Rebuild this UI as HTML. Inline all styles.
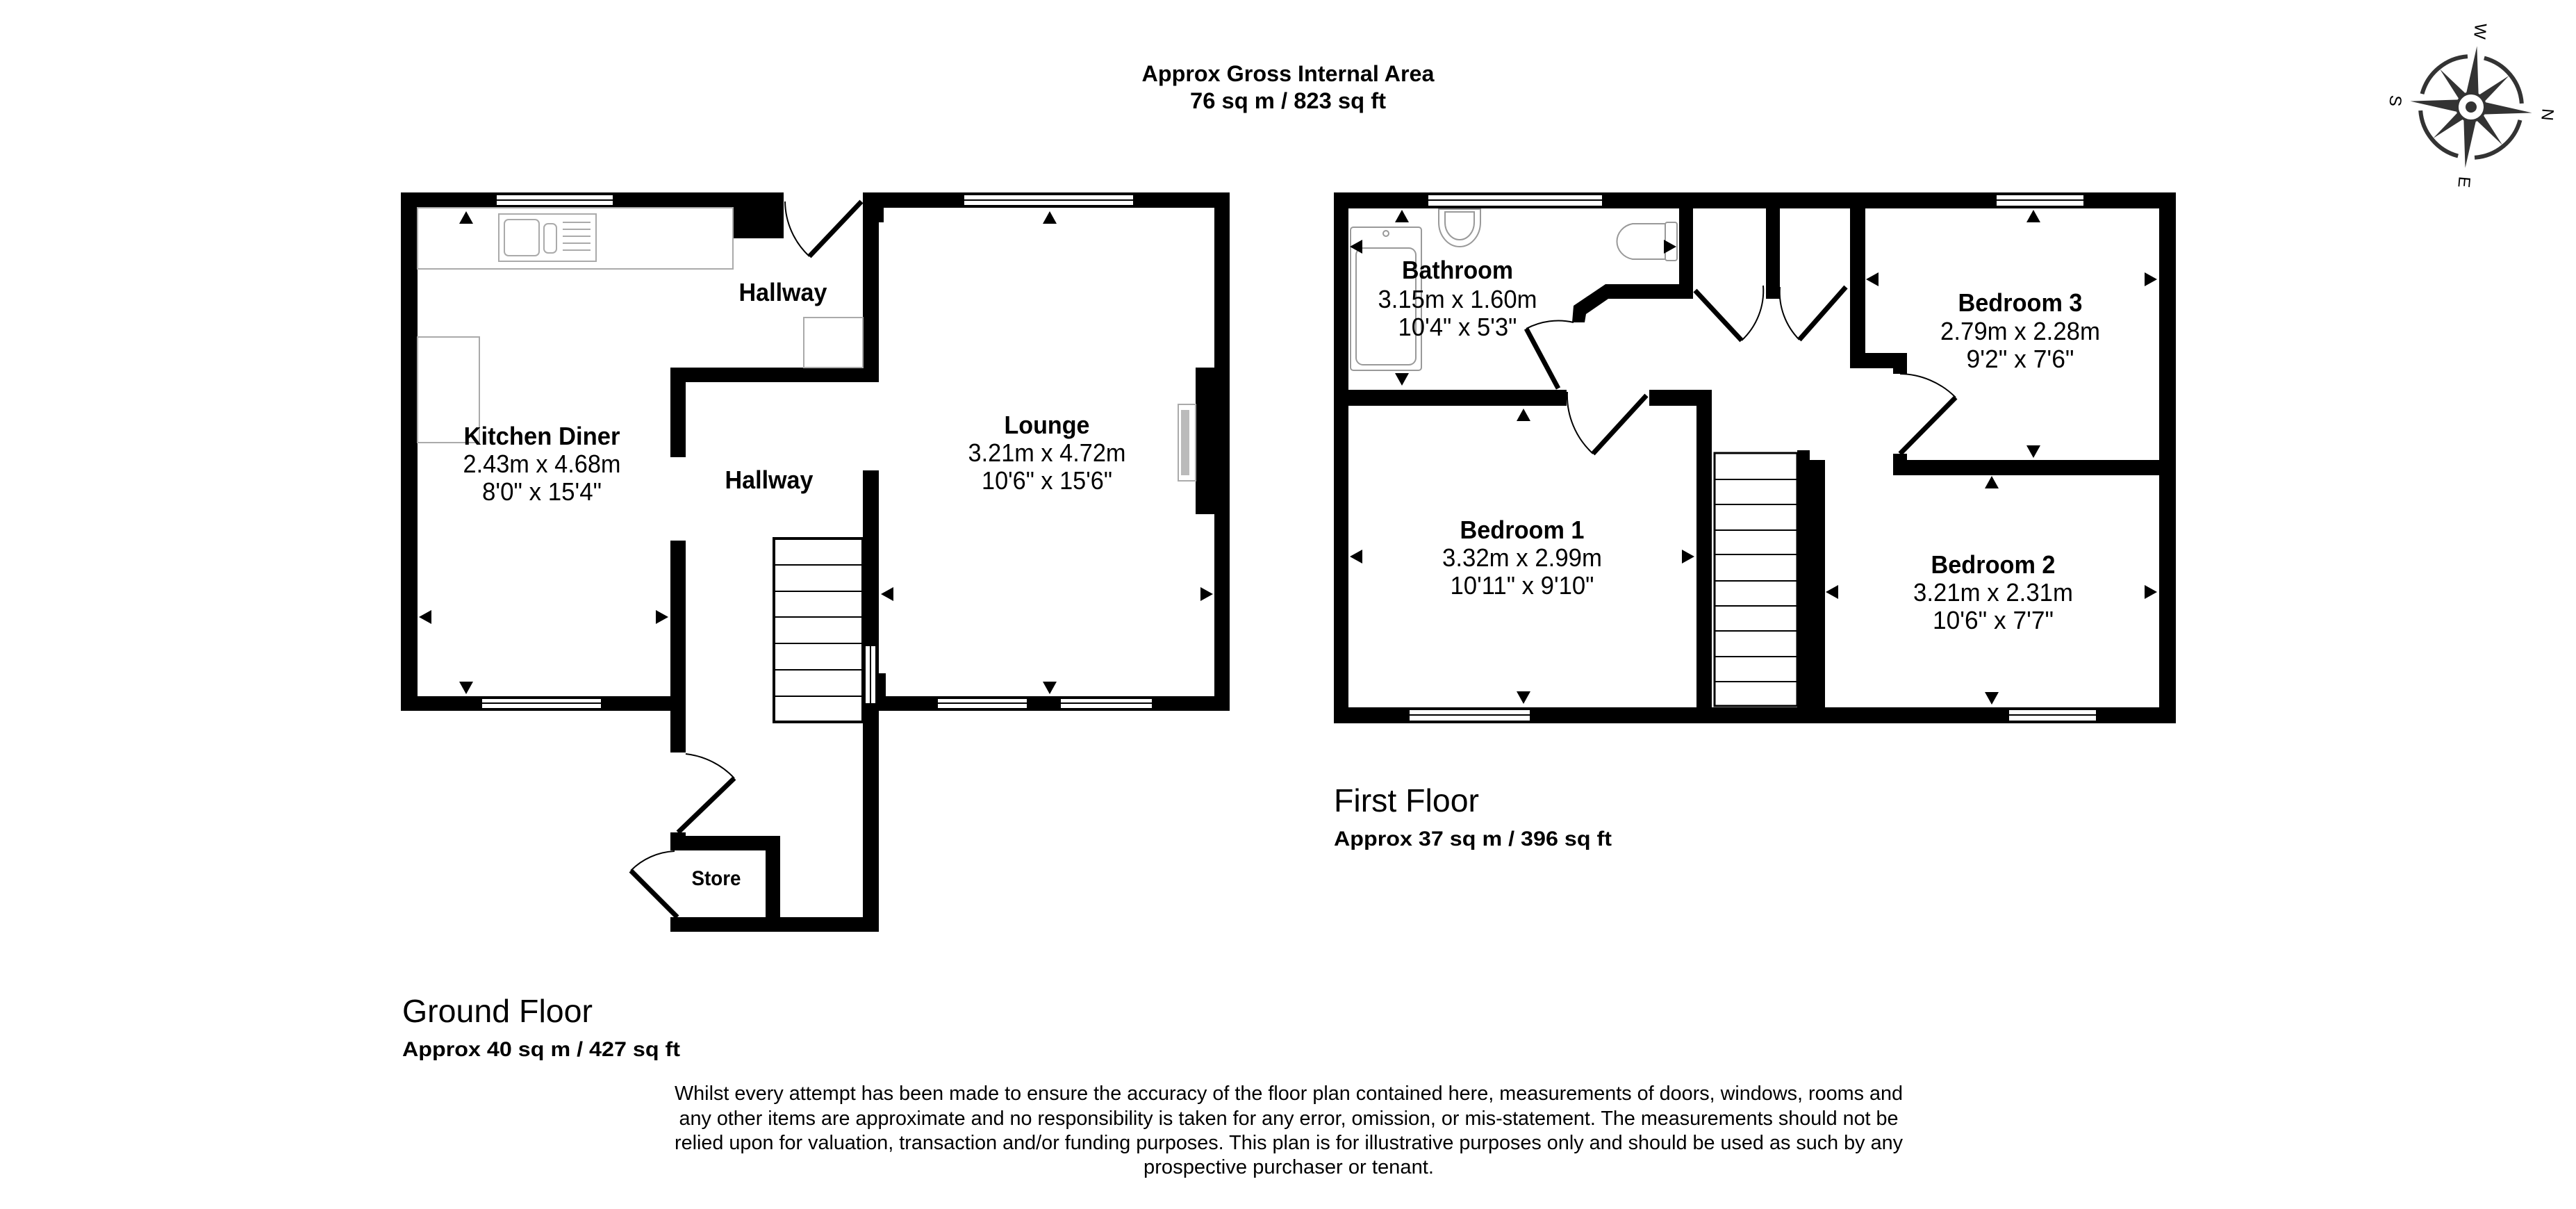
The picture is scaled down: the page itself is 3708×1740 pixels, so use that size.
<!DOCTYPE html>
<html><head><meta charset="utf-8"><style>
html,body{margin:0;padding:0;background:#fff;}
svg{display:block;}
text{font-family:"Liberation Sans",Arial,sans-serif;fill:#000;}
.b{font-weight:bold;}
</style></head><body>
<svg width="3708" height="1740" viewBox="0 0 3708 1740" xmlns="http://www.w3.org/2000/svg">
<rect width="3708" height="1740" fill="#fff"/>

<text x="1854" y="117" class="b" font-size="32" text-anchor="middle" textLength="421" lengthAdjust="spacingAndGlyphs">Approx Gross Internal Area</text>
<text x="1854" y="156" class="b" font-size="32" text-anchor="middle" textLength="282" lengthAdjust="spacingAndGlyphs">76 sq m / 823 sq ft</text>

<!-- GROUND FLOOR -->
<g fill="#000">
<rect x="577" y="277" width="551" height="22"/>
<rect x="1055" y="299" width="73" height="44"/>
<rect x="577" y="277" width="24" height="746"/>
<rect x="577" y="1002" width="410" height="21"/>
<rect x="965" y="778" width="22" height="305"/>
<rect x="965" y="529" width="22" height="129"/>
<rect x="965" y="529" width="300" height="21"/>
<rect x="1242" y="277" width="528" height="22"/>
<rect x="1242" y="277" width="30" height="43"/>
<rect x="1242" y="277" width="23" height="273"/>
<rect x="1748" y="277" width="22" height="746"/>
<rect x="1242" y="1002" width="528" height="21"/>
<rect x="1242" y="677" width="23" height="664"/>
<rect x="1265" y="969" width="10" height="33"/>
<rect x="965" y="1320" width="300" height="21"/>
<rect x="965" y="1203" width="158" height="21"/>
<rect x="1102" y="1203" width="21" height="138"/>
<rect x="965" y="1198" width="22" height="26"/>
<rect x="1721" y="529" width="27" height="211"/>
</g>
<g fill="#fff" stroke="#000" stroke-width="2">
<rect x="714" y="280" width="169" height="16"/><line x1="714" y1="288" x2="883" y2="288"/>
<rect x="1387" y="280" width="245" height="16"/><line x1="1387" y1="288" x2="1632" y2="288"/>
<rect x="693" y="1005" width="173" height="15"/><line x1="693" y1="1012" x2="866" y2="1012"/>
<rect x="1349" y="1005" width="130" height="15"/><line x1="1349" y1="1012" x2="1479" y2="1012"/>
<rect x="1526" y="1005" width="133" height="15"/><line x1="1526" y1="1012" x2="1659" y2="1012"/>
<rect x="1245" y="929" width="16" height="84"/><line x1="1253" y1="929" x2="1253" y2="1013"/>
</g>
<g fill="none" stroke="#aaa" stroke-width="2">
<rect x="601" y="299" width="454" height="88"/>
<rect x="718" y="308" width="140" height="68"/>
<rect x="726" y="316" width="50" height="52" rx="6"/>
<rect x="783" y="322" width="18" height="42" rx="6"/>
<line x1="810" y1="320" x2="850" y2="320"/><line x1="810" y1="330" x2="850" y2="330"/><line x1="810" y1="340" x2="850" y2="340"/><line x1="810" y1="350" x2="850" y2="350"/><line x1="810" y1="360" x2="850" y2="360"/>
<rect x="601" y="485" width="89" height="152"/>
<rect x="1157" y="457" width="85" height="72"/>
<rect x="1696" y="582" width="25" height="110"/>
</g>
<rect x="1700" y="590" width="12" height="94" fill="#bbb"/>
<g fill="none" stroke="#000">
<rect x="1114" y="775" width="128" height="264" stroke-width="4"/>
<g stroke-width="2">
<line x1="1114" y1="813" x2="1242" y2="813"/><line x1="1114" y1="851" x2="1242" y2="851"/><line x1="1114" y1="888" x2="1242" y2="888"/><line x1="1114" y1="926" x2="1242" y2="926"/><line x1="1114" y1="964" x2="1242" y2="964"/><line x1="1114" y1="1002" x2="1242" y2="1002"/>
</g>
</g>
<g fill="none" stroke="#000">
<line x1="1240" y1="290" x2="1165" y2="369" stroke-width="7"/>
<path d="M1130 290 A110 110 0 0 0 1165 369" stroke-width="2"/>
<line x1="976" y1="1198" x2="1057" y2="1120" stroke-width="7"/>
<path d="M987 1085 A113 113 0 0 1 1057 1120" stroke-width="2"/>
<line x1="975" y1="1320" x2="908" y2="1253" stroke-width="7"/>
<path d="M971 1225 A95 95 0 0 0 908 1253" stroke-width="2"/>
</g>
<g fill="#000">
<polygon points="671,304 661,322 681,322"/>
<polygon points="671,999 661,981 681,981"/>
<polygon points="603,888 621,878 621,898"/>
<polygon points="962,888 944,878 944,898"/>
<polygon points="1511,304 1501,322 1521,322"/>
<polygon points="1511,999 1501,981 1521,981"/>
<polygon points="1268,855 1286,845 1286,865"/>
<polygon points="1746,855 1728,845 1728,865"/>
</g>
<g font-size="36" text-anchor="middle">
<text x="780" y="640" class="b" textLength="225" lengthAdjust="spacingAndGlyphs">Kitchen Diner</text>
<text x="780" y="680" textLength="227" lengthAdjust="spacingAndGlyphs">2.43m x 4.68m</text>
<text x="780" y="720" textLength="172" lengthAdjust="spacingAndGlyphs">8'0" x 15'4"</text>
<text x="1127" y="433" class="b" textLength="127" lengthAdjust="spacingAndGlyphs">Hallway</text>
<text x="1107" y="703" class="b" textLength="127" lengthAdjust="spacingAndGlyphs">Hallway</text>
<text x="1507" y="624" class="b" textLength="123" lengthAdjust="spacingAndGlyphs">Lounge</text>
<text x="1507" y="664" textLength="227" lengthAdjust="spacingAndGlyphs">3.21m x 4.72m</text>
<text x="1507" y="704" textLength="188" lengthAdjust="spacingAndGlyphs">10'6" x 15'6"</text>
</g>
<text x="1031" y="1274" class="b" font-size="30" text-anchor="middle" textLength="71" lengthAdjust="spacingAndGlyphs">Store</text>

<text x="579" y="1471" font-size="46" textLength="274" lengthAdjust="spacingAndGlyphs">Ground Floor</text>
<text x="579" y="1520" class="b" font-size="30" textLength="400" lengthAdjust="spacingAndGlyphs">Approx 40 sq m / 427 sq ft</text>

<!-- FIRST FLOOR -->
<g fill="#000">
<rect x="1920" y="277" width="1212" height="23"/>
<rect x="1920" y="277" width="21" height="764"/>
<rect x="3108" y="277" width="24" height="764"/>
<rect x="1920" y="1018" width="1212" height="23"/>
<rect x="2417" y="300" width="20" height="130"/>
<polygon points="2311,409 2437,409 2437,430 2315,430 2283,452 2281,464 2263,464 2265,440"/>
<rect x="1941" y="561" width="314" height="23"/>
<rect x="2374" y="561" width="90" height="23"/>
<rect x="2442" y="561" width="22" height="480"/>
<rect x="2542" y="300" width="20" height="130"/>
<rect x="2663" y="300" width="22" height="230"/>
<rect x="2663" y="508" width="82" height="22"/>
<rect x="2725" y="508" width="20" height="30"/>
<rect x="2725" y="662" width="407" height="22"/>
<rect x="2725" y="653" width="20" height="31"/>
<rect x="2587" y="662" width="40" height="379"/>
<rect x="2587" y="648" width="18" height="20"/>
</g>
<g fill="#fff" stroke="#000" stroke-width="2">
<rect x="2055" y="280" width="252" height="17"/><line x1="2055" y1="288" x2="2307" y2="288"/>
<rect x="2873" y="280" width="127" height="17"/><line x1="2873" y1="288" x2="3000" y2="288"/>
<rect x="2028" y="1021" width="175" height="17"/><line x1="2028" y1="1029" x2="2203" y2="1029"/>
<rect x="2891" y="1021" width="127" height="17"/><line x1="2891" y1="1029" x2="3018" y2="1029"/>
</g>
<g fill="none" stroke="#999" stroke-width="2">
<rect x="1944" y="327" width="102" height="206" rx="4"/>
<rect x="1952" y="357" width="86" height="168" rx="10"/>
<circle cx="1995" cy="336" r="4"/>
<path d="M2071 301 L2131 301 L2131 320 A30 35 0 0 1 2071 320 Z"/>
<path d="M2080 305 L2122 305 L2122 320 A21 25 0 0 1 2080 320 Z"/>
<rect x="2397" y="320" width="17" height="55" rx="3"/>
<path d="M2397 322 L2350 322 A28 26 0 0 0 2350 373 L2397 373"/>
</g>
<g fill="none" stroke="#000">
<rect x="2468" y="652" width="119" height="364" stroke-width="3"/>
<g stroke-width="2">
<line x1="2468" y1="690" x2="2587" y2="690"/><line x1="2468" y1="726" x2="2587" y2="726"/><line x1="2468" y1="763" x2="2587" y2="763"/><line x1="2468" y1="798" x2="2587" y2="798"/><line x1="2468" y1="836" x2="2587" y2="836"/><line x1="2468" y1="872" x2="2587" y2="872"/><line x1="2468" y1="908" x2="2587" y2="908"/><line x1="2468" y1="945" x2="2587" y2="945"/><line x1="2468" y1="981" x2="2587" y2="981"/>
</g>
</g>
<g fill="none" stroke="#000">
<line x1="2243" y1="559" x2="2197" y2="473" stroke-width="7"/>
<path d="M2197 473 A98 98 0 0 1 2265 464" stroke-width="2"/>
<line x1="2370" y1="569" x2="2293" y2="653" stroke-width="7"/>
<path d="M2256 564 A114 114 0 0 0 2293 653" stroke-width="2"/>
<line x1="2440" y1="418" x2="2507" y2="490" stroke-width="7"/>
<path d="M2507 490 A98 98 0 0 0 2538 411" stroke-width="2"/>
<line x1="2657" y1="413" x2="2590" y2="489" stroke-width="7"/>
<path d="M2562 413 A98 98 0 0 0 2590 489" stroke-width="2"/>
<line x1="2735" y1="653" x2="2815" y2="572" stroke-width="7"/>
<path d="M2735 538 A115 115 0 0 1 2815 572" stroke-width="2"/>
</g>
<g fill="#000">
<polygon points="2018,302 2008,320 2028,320"/>
<polygon points="2018,555 2008,537 2028,537"/>
<polygon points="1943,355 1961,345 1961,365"/>
<polygon points="2413,355 2395,345 2395,365"/>
<polygon points="2193,588 2183,606 2203,606"/>
<polygon points="2193,1013 2183,995 2203,995"/>
<polygon points="1943,801 1961,791 1961,811"/>
<polygon points="2439,801 2421,791 2421,811"/>
<polygon points="2927,302 2917,320 2937,320"/>
<polygon points="2927,659 2917,641 2937,641"/>
<polygon points="2686,402 2704,392 2704,412"/>
<polygon points="3105,402 3087,392 3087,412"/>
<polygon points="2867,685 2857,703 2877,703"/>
<polygon points="2867,1014 2857,996 2877,996"/>
<polygon points="2628,852 2646,842 2646,862"/>
<polygon points="3105,852 3087,842 3087,862"/>
</g>
<g font-size="36" text-anchor="middle">
<text x="2098" y="401" class="b" textLength="160" lengthAdjust="spacingAndGlyphs">Bathroom</text>
<text x="2098" y="443" textLength="229" lengthAdjust="spacingAndGlyphs">3.15m x 1.60m</text>
<text x="2098" y="483" textLength="171" lengthAdjust="spacingAndGlyphs">10'4" x 5'3"</text>
<text x="2908" y="448" class="b" textLength="179" lengthAdjust="spacingAndGlyphs">Bedroom 3</text>
<text x="2908" y="489" textLength="230" lengthAdjust="spacingAndGlyphs">2.79m x 2.28m</text>
<text x="2908" y="529" textLength="155" lengthAdjust="spacingAndGlyphs">9'2" x 7'6"</text>
<text x="2191" y="775" class="b" textLength="179" lengthAdjust="spacingAndGlyphs">Bedroom 1</text>
<text x="2191" y="815" textLength="230" lengthAdjust="spacingAndGlyphs">3.32m x 2.99m</text>
<text x="2191" y="855" textLength="207" lengthAdjust="spacingAndGlyphs">10'11" x 9'10"</text>
<text x="2869" y="825" class="b" textLength="179" lengthAdjust="spacingAndGlyphs">Bedroom 2</text>
<text x="2869" y="865" textLength="230" lengthAdjust="spacingAndGlyphs">3.21m x 2.31m</text>
<text x="2869" y="905" textLength="174" lengthAdjust="spacingAndGlyphs">10'6" x 7'7"</text>
</g>

<text x="1920" y="1168" font-size="46" textLength="209" lengthAdjust="spacingAndGlyphs">First Floor</text>
<text x="1920" y="1217" class="b" font-size="30" textLength="400" lengthAdjust="spacingAndGlyphs">Approx 37 sq m / 396 sq ft</text>

<g font-size="29" text-anchor="middle">
<text x="1855" y="1583" textLength="1768" lengthAdjust="spacingAndGlyphs">Whilst every attempt has been made to ensure the accuracy of the floor plan contained here, measurements of doors, windows, rooms and</text>
<text x="1855" y="1619" textLength="1755" lengthAdjust="spacingAndGlyphs">any other items are approximate and no responsibility is taken for any error, omission, or mis-statement. The measurements should not be</text>
<text x="1855" y="1654" textLength="1768" lengthAdjust="spacingAndGlyphs">relied upon for valuation, transaction and/or funding purposes. This plan is for illustrative purposes only and should be used as such by any</text>
<text x="1855" y="1689" textLength="418" lengthAdjust="spacingAndGlyphs">prospective purchaser or tenant.</text>
</g>

<g transform="translate(3557,154) rotate(95.5)" fill="#333">
<g fill="none" stroke="#333" stroke-width="6">
<path d="M-12 -72 A73 73 0 0 0 -72 -12"/>
<path d="M12 -72 A73 73 0 0 1 72 -12"/>
<path d="M-12 72 A73 73 0 0 1 -72 12"/>
<path d="M12 72 A73 73 0 0 0 72 12"/>
</g>
<polygon points="0,-88 10,-10 0,0 -10,-10"/>
<polygon points="0,88 10,10 0,0 -10,10"/>
<polygon points="-88,0 -10,-10 0,0 -10,10"/>
<polygon points="88,0 10,-10 0,0 10,10"/>
<polygon points="-50,-50 -4,-14 -14,-4"/>
<polygon points="50,-50 4,-14 14,-4"/>
<polygon points="-50,50 -4,14 -14,4"/>
<polygon points="50,50 4,14 14,4"/>
<circle r="20" fill="#fff" stroke="#333" stroke-width="4"/>
<circle r="8"/>
</g>
<g fill="#333" font-size="24" text-anchor="middle">
<text x="3570" y="45" transform="rotate(95 3570 45)" dy="8">W</text>
<text x="3448" y="145" transform="rotate(95 3448 145)" dy="8">S</text>
<text x="3667" y="165" transform="rotate(95 3667 165)" dy="8">N</text>
<text x="3547" y="262" transform="rotate(95 3547 262)" dy="8">E</text>
</g>
</svg>
</body></html>
